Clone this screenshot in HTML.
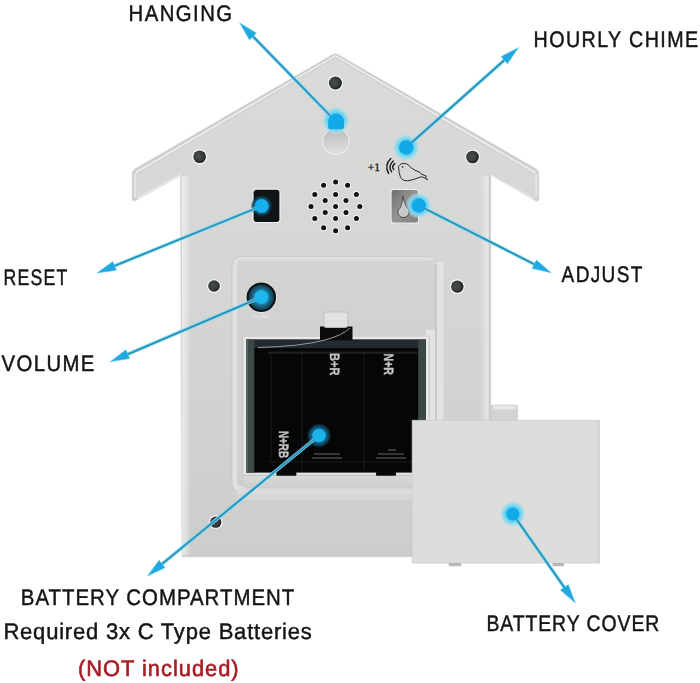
<!DOCTYPE html>
<html><head><meta charset="utf-8">
<style>
html,body{margin:0;padding:0;background:#fff;width:700px;height:683px;overflow:hidden}
svg{display:block}
text{text-rendering:geometricPrecision;font-family:"Liberation Sans",sans-serif;fill:#141414;stroke:#141414;stroke-width:0.45}
</style></head>
<body>
<svg width="700" height="683" viewBox="0 0 700 683">
<defs>
  <filter id="soft" x="-20%" y="-20%" width="140%" height="140%"><feGaussianBlur stdDeviation="0.45"/></filter>
  <linearGradient id="keyg" x1="0" y1="0" x2="0" y2="1">
    <stop offset="0" stop-color="#b9b9b9"/><stop offset="0.6" stop-color="#d2d2d2"/><stop offset="1" stop-color="#dedede"/>
  </linearGradient>
  <linearGradient id="adjg" x1="0" y1="0" x2="1" y2="1">
    <stop offset="0" stop-color="#6e6e6e"/><stop offset="0.5" stop-color="#959595"/><stop offset="1" stop-color="#7e7e7e"/>
  </linearGradient>
  <linearGradient id="lrim" x1="0" y1="0" x2="1" y2="0">
    <stop offset="0" stop-color="#ffffff" stop-opacity="0.6"/><stop offset="0.5" stop-color="#ffffff" stop-opacity="0.35"/><stop offset="1" stop-color="#ffffff" stop-opacity="0"/>
  </linearGradient>
  <linearGradient id="rrim" x1="0" y1="0" x2="1" y2="0">
    <stop offset="0" stop-color="#ffffff" stop-opacity="0"/><stop offset="0.8" stop-color="#ffffff" stop-opacity="0.4"/><stop offset="1" stop-color="#c8c8c8" stop-opacity="0.9"/>
  </linearGradient>
  <linearGradient id="lborder" x1="0" y1="0" x2="1" y2="0">
    <stop offset="0" stop-color="#5d6966"/><stop offset="0.4" stop-color="#3f4846"/><stop offset="1" stop-color="#1a1e1d"/>
  </linearGradient>
  <linearGradient id="rborder" x1="0" y1="0" x2="1" y2="0">
    <stop offset="0" stop-color="#1a1e1d"/><stop offset="0.5" stop-color="#3f4846"/><stop offset="1" stop-color="#5a6562"/>
  </linearGradient>
  <linearGradient id="topsh" x1="0" y1="0" x2="0" y2="1">
    <stop offset="0" stop-color="#e2e2e2"/><stop offset="1" stop-color="#cdcdcd"/>
  </linearGradient>
  <radialGradient id="knobg" cx="50%" cy="50%" r="50%">
    <stop offset="0.5" stop-color="#1f86b0"/><stop offset="0.8" stop-color="#175a75"/><stop offset="1" stop-color="#123c4c"/>
  </radialGradient>
  <radialGradient id="holeg" cx="42%" cy="45%" r="58%">
    <stop offset="0" stop-color="#4a5050"/><stop offset="0.7" stop-color="#343939"/><stop offset="1" stop-color="#151818"/>
  </radialGradient>
  <linearGradient id="bodyg" gradientUnits="userSpaceOnUse" x1="0" y1="54" x2="0" y2="556">
    <stop offset="0" stop-color="#dadad8"/><stop offset="0.5" stop-color="#d5d5d3"/><stop offset="1" stop-color="#cdcdcb"/>
  </linearGradient>
  <linearGradient id="floorg" x1="0" y1="0" x2="0" y2="1">
    <stop offset="0" stop-color="#d3d3d1"/><stop offset="1" stop-color="#cfcfcd"/>
  </linearGradient>
  <linearGradient id="underg" x1="0" y1="0" x2="0" y2="1">
    <stop offset="0" stop-color="#d9d9d8"/><stop offset="1" stop-color="#cdcdcc"/>
  </linearGradient>
  <radialGradient id="haloL" cx="50%" cy="50%" r="50%">
    <stop offset="0.5" stop-color="#52cdf2" stop-opacity="1"/><stop offset="0.75" stop-color="#8cdaee" stop-opacity="0.85"/><stop offset="1" stop-color="#bfe3ea" stop-opacity="0"/>
  </radialGradient>
  <radialGradient id="haloD" cx="50%" cy="50%" r="50%">
    <stop offset="0.45" stop-color="#1a7aa6" stop-opacity="1"/><stop offset="0.8" stop-color="#0f4560" stop-opacity="0.9"/><stop offset="1" stop-color="#0b2a3a" stop-opacity="0"/>
  </radialGradient>
</defs>

<!-- house body -->
<path d="M333,55.3 Q335.4,53.8 337.8,55.3 L536,169.8 Q538,171 538,173 L538,198.5 Q538,201.5 535.5,200 L490,173.5 L490,556 L182.4,556 L181.2,174.5 L135.5,199.8 Q133,201 133,198.5 L133,173 Q133,171 135,169.8 Z" fill="#ececec" stroke="#ececec" stroke-width="3" stroke-linejoin="round"/>
<path d="M333,55.3 Q335.4,53.8 337.8,55.3 L536,169.8 Q538,171 538,173 L538,198.5 Q538,201.5 535.5,200 L490,173.5 L490,556 L182.4,556 L181.2,174.5 L135.5,199.8 Q133,201 133,198.5 L133,173 Q133,171 135,169.8 Z" fill="url(#bodyg)" stroke="#bdbdbd" stroke-width="1" stroke-linejoin="round"/>
<!-- roof bevel -->
<path d="M136,172.8 L335.4,55.7 L535,172.8" fill="none" stroke="#ebebeb" stroke-width="1.8" stroke-linejoin="round"/>
<path d="M137.5,173.5 L335.4,57.4 L533.5,173.5" fill="none" stroke="#c9c9c9" stroke-width="0.9" stroke-linejoin="round"/>
<path d="M134.8,174 L134.8,197.5 M536.3,174 L536.3,197.5" fill="none" stroke="#e6e6e6" stroke-width="2"/>
<path d="M137,198.5 L181,174.5 M490,174.5 L534,199" fill="none" stroke="#e8e8e8" stroke-width="1.6"/>
<!-- body rims -->
<rect x="181.5" y="176" width="9" height="379.5" fill="url(#lrim)"/>
<rect x="480" y="176" width="9.5" height="379.5" fill="url(#rrim)"/>

<!-- inner recessed panel -->
<rect x="436" y="262" width="7.5" height="228" fill="#e2e2e2"/>
<rect x="231.5" y="256" width="205" height="237" rx="10" fill="#c6c6c6"/>
<rect x="232.3" y="256.8" width="203.4" height="235.4" rx="9.2" fill="#e0e0e0"/>
<rect x="238" y="258.4" width="196" height="5" fill="url(#topsh)"/>
<rect x="237.2" y="262.8" width="198" height="224" rx="5" fill="url(#floorg)"/>
<rect x="435" y="264" width="1.4" height="224" fill="#c4c4c4"/>
<rect x="237" y="488.5" width="206" height="5.5" fill="#dcdcdb"/>
<rect x="237" y="494" width="206" height="6" fill="#d6d6d5"/>
<rect x="244" y="475" width="183" height="13.5" fill="url(#underg)"/>
<rect x="244" y="472.6" width="183" height="2.2" fill="#efefef"/>
<rect x="426" y="330" width="9" height="150" fill="#e4e4e4"/>
<rect x="428.8" y="338" width="0.9" height="136" fill="#cbcbcb"/>

<!-- holes -->
<g fill="#f4f4f4">
  <circle cx="335.4" cy="83.0" r="7.8"/>
  <circle cx="199.6" cy="156.8" r="7.6"/>
  <circle cx="472.5" cy="157.0" r="7.6"/>
  <circle cx="457.3" cy="286.6" r="7.5"/>
  <circle cx="214.0" cy="286.0" r="7.1"/>
  <circle cx="215.7" cy="522.2" r="6.9"/>
</g>
<g fill="url(#holeg)">
  <circle cx="335.4" cy="83.0" r="6.5"/>
  <circle cx="199.6" cy="156.8" r="6.3"/>
  <circle cx="472.5" cy="157.0" r="6.3"/>
  <circle cx="457.3" cy="286.6" r="6.2"/>
  <circle cx="214.0" cy="286.0" r="5.8"/>
  <circle cx="215.7" cy="522.2" r="5.6"/>
</g>

<!-- keyhole -->
<circle cx="335.8" cy="141.4" r="13.6" fill="#ededed"/>
<circle cx="335.8" cy="141.4" r="12.6" fill="url(#keyg)"/>
<rect x="328.6" y="114" width="14.4" height="20" rx="6" fill="#c9c9c9"/>

<!-- speaker -->
<g fill="#f3f3f3">
  <circle cx="335.6" cy="206.6" r="3.5"/>
  <circle cx="335.6" cy="194.6" r="3.5"/>
  <circle cx="346.0" cy="200.6" r="3.5"/>
  <circle cx="346.0" cy="212.6" r="3.5"/>
  <circle cx="335.6" cy="218.6" r="3.5"/>
  <circle cx="325.2" cy="212.6" r="3.5"/>
  <circle cx="325.2" cy="200.6" r="3.5"/>
  <circle cx="335.6" cy="182.0" r="3.5"/>
  <circle cx="347.6" cy="185.2" r="3.5"/>
  <circle cx="356.4" cy="194.6" r="3.5"/>
  <circle cx="359.8" cy="206.6" r="3.5"/>
  <circle cx="356.4" cy="218.6" r="3.5"/>
  <circle cx="347.6" cy="227.8" r="3.5"/>
  <circle cx="335.6" cy="230.8" r="3.5"/>
  <circle cx="323.6" cy="227.8" r="3.5"/>
  <circle cx="314.8" cy="218.6" r="3.5"/>
  <circle cx="311.0" cy="206.6" r="3.5"/>
  <circle cx="314.8" cy="194.6" r="3.5"/>
  <circle cx="323.6" cy="185.2" r="3.5"/>
</g>
<g fill="#121212">
  <circle cx="335.6" cy="206.6" r="2.5"/>
  <circle cx="335.6" cy="194.6" r="2.5"/>
  <circle cx="346.0" cy="200.6" r="2.5"/>
  <circle cx="346.0" cy="212.6" r="2.5"/>
  <circle cx="335.6" cy="218.6" r="2.5"/>
  <circle cx="325.2" cy="212.6" r="2.5"/>
  <circle cx="325.2" cy="200.6" r="2.5"/>
  <circle cx="335.6" cy="182.0" r="2.5"/>
  <circle cx="347.6" cy="185.2" r="2.5"/>
  <circle cx="356.4" cy="194.6" r="2.5"/>
  <circle cx="359.8" cy="206.6" r="2.5"/>
  <circle cx="356.4" cy="218.6" r="2.5"/>
  <circle cx="347.6" cy="227.8" r="2.5"/>
  <circle cx="335.6" cy="230.8" r="2.5"/>
  <circle cx="323.6" cy="227.8" r="2.5"/>
  <circle cx="314.8" cy="218.6" r="2.5"/>
  <circle cx="311.0" cy="206.6" r="2.5"/>
  <circle cx="314.8" cy="194.6" r="2.5"/>
  <circle cx="323.6" cy="185.2" r="2.5"/>
</g>

<!-- reset button -->
<rect x="252.5" y="188.6" width="28" height="34.4" rx="3.4" fill="#f4f4f4"/>
<rect x="253.6" y="189.7" width="25.8" height="32.2" rx="2.6" fill="#111416"/>
<text x="258.5" y="228.5" font-size="4" style="fill:#e6e6e6;stroke:none">RESET</text>

<!-- adjust -->
<rect x="390.6" y="189" width="28.4" height="34.6" rx="2.6" fill="#eeeeee"/>
<rect x="391.6" y="190" width="26.4" height="32.6" rx="2" fill="url(#adjg)"/>
<path d="M402.8,196.5 C402.4,200 401.9,203.5 400.6,207.2 A5.6,5.6 0 1 0 407.2,207.8 C405.2,204.5 403.6,200.5 402.8,196.5 Z" fill="#c9c9c9" stroke="#333" stroke-width="0.8"/>

<text x="396" y="229.5" font-size="4" style="fill:#e4e4e4;stroke:none">ADJUST</text>
<!-- +1 chime bird -->
<text x="367.8" y="171.3" font-size="11.5" style="font-family:'Liberation Serif',serif;fill:#1a1a1a;stroke:#1a1a1a;stroke-width:0.3">+1</text>
<path d="M390.8,158.4 Q384,165 388.6,173.4 M393.2,161 Q387.4,166.5 391.6,171.7 M394.8,163.6 Q391,166.8 393.8,169.6" fill="none" stroke="#1c1c1c" stroke-width="1.45" stroke-linecap="round"/>
<path d="M398.3,166.6 L400,164.6 Q402.6,162.3 406.5,163.9 Q409,165.2 411.1,167.7 Q414,170.3 420.1,172.5 L421,173.9 L426.6,176.3 L425.4,177.4 L427.8,179.8 L424.8,178 Q422.2,176.6 420.8,176.9 Q414,179.6 407.7,180.9 Q402.8,181.2 400.6,177.6 Q398.7,173 398.6,167.2 Z" fill="none" stroke="#2a2a2a" stroke-width="1" stroke-linejoin="round"/>
<circle cx="402.6" cy="166.8" r="0.9" fill="#2a2a2a"/>

<!-- black battery compartment -->
<rect x="242.5" y="335.8" width="187" height="140" fill="#c4c4c4"/>
<rect x="243.3" y="336.6" width="185.4" height="138" fill="#e8e8e8"/>
<rect x="246" y="339.6" width="180" height="133" fill="#060606"/>
<rect x="246" y="339.6" width="180" height="8.5" fill="#222931"/>
<rect x="246" y="339.6" width="8.3" height="133" fill="#3d4947"/>
<rect x="418.2" y="339.6" width="7.8" height="133" fill="#3b4745"/>
<rect x="246" y="339.6" width="2" height="133" fill="#566260"/>
<rect x="320" y="326.5" width="32.5" height="14" fill="#0c0c0c"/>
<rect x="323.8" y="312" width="24" height="15.5" rx="2.5" fill="#e2e2e2" stroke="#bcbcbc" stroke-width="0.9"/>
<path d="M258,347.5 Q300,346.5 325,340 Q342,335.5 350,328" fill="none" stroke="#9a9a9a" stroke-width="1"/>
<!-- holder details -->
<g stroke="#1a1a1a" stroke-width="1" fill="none">
  <path d="M268,352 L417,352"/>
  <path d="M271,355 L271,462"/>
  <path d="M302,352 L302,470 M364,352 L364,470"/>
  <path d="M268,462 L417,462"/>
</g>
<g filter="url(#soft)">
  <text transform="translate(329.5,353) rotate(90)" textLength="22.5" lengthAdjust="spacingAndGlyphs" style="fill:#c4c4c4;stroke:#c4c4c4;stroke-width:0.4;font-weight:bold;font-size:13.5px">B+R</text>
  <text transform="translate(383.5,353.5) rotate(90)" textLength="21.5" lengthAdjust="spacingAndGlyphs" style="fill:#c4c4c4;stroke:#c4c4c4;stroke-width:0.4;font-weight:bold;font-size:13.5px">N+R</text>
  <text transform="translate(279,431) rotate(90)" textLength="27" lengthAdjust="spacingAndGlyphs" style="fill:#c4c4c4;stroke:#c4c4c4;stroke-width:0.4;font-weight:bold;font-size:13.5px">N+RB</text>
</g>
<path d="M268,353 L417,353" stroke="#3a3a3a" stroke-width="0.8"/>
<g stroke="#9a9a9a" stroke-width="0.8" fill="none" opacity="0.8">
  <path d="M312,458 l30,0 M314,454 l26,0 M376,458 l30,0 M378,454 l26,0 M388,450 l8,0"/>
</g>
<rect x="276.4" y="472" width="20" height="3.8" rx="1" fill="#080808"/>
<rect x="376" y="472" width="20" height="3.8" rx="1" fill="#080808"/>

<!-- battery cover -->
<rect x="491" y="405" width="26.6" height="16" rx="1.5" fill="#d3d3d3" stroke="#c4c4c4" stroke-width="0.6"/>
<rect x="493" y="405.5" width="22.6" height="4" fill="#e6e6e6"/>
<rect x="412.2" y="420.3" width="187.2" height="142.7" fill="#dddddb" stroke="#cdcdcb" stroke-width="0.8"/>
<rect x="596.5" y="421" width="2.6" height="141.6" fill="#d5d5d3"/>
<rect x="552.5" y="563" width="11.5" height="3.2" fill="#b8b8b8"/>
<rect x="448.7" y="563" width="12.5" height="3.2" fill="#b8b8b8"/>

<!-- volume knob -->
<circle cx="261.3" cy="297.3" r="15.6" fill="#ececec"/>
<circle cx="261.3" cy="297.3" r="14.8" fill="#0f1518"/>
<circle cx="261.3" cy="297.3" r="12.6" fill="url(#knobg)"/>
<text x="252" y="318" font-size="4" style="fill:#ececec;stroke:none">VOLUME</text>

<!-- halos -->
<ellipse cx="335.8" cy="120.5" rx="14.5" ry="14.5" fill="url(#haloL)"/>
<circle cx="406.2" cy="147.5" r="14" fill="url(#haloL)"/>
<circle cx="261.6" cy="206" r="11" fill="url(#haloD)"/>
<circle cx="418.8" cy="205.5" r="13.5" fill="url(#haloL)"/>
<circle cx="319" cy="435.5" r="12.5" fill="url(#haloD)"/>
<circle cx="512.8" cy="514" r="13.5" fill="url(#haloL)"/>
<!-- arrows -->
<g stroke="#7ad8f2" stroke-width="3.5" fill="none">
  <line x1="335.4" y1="121.0" x2="249.5" y2="32.9"/>
  <line x1="406.2" y1="147.5" x2="508.0" y2="56.9"/>
  <line x1="261.6" y1="206.0" x2="110.0" y2="267.7"/>
  <line x1="261.3" y1="297.1" x2="123.2" y2="356.2"/>
  <line x1="418.8" y1="205.5" x2="538.7" y2="266.5"/>
  <line x1="319.0" y1="435.5" x2="158.2" y2="567.1"/>
  <line x1="512.8" y1="514.0" x2="567.2" y2="591.4"/>
</g>
<g stroke="#2a8fb5" stroke-width="1.7" fill="none">
  <line x1="335.4" y1="121.0" x2="249.5" y2="32.9"/>
  <line x1="406.2" y1="147.5" x2="508.0" y2="56.9"/>
  <line x1="261.6" y1="206.0" x2="110.0" y2="267.7"/>
  <line x1="261.3" y1="297.1" x2="123.2" y2="356.2"/>
  <line x1="418.8" y1="205.5" x2="538.7" y2="266.5"/>
  <line x1="319.0" y1="435.5" x2="158.2" y2="567.1"/>
  <line x1="512.8" y1="514.0" x2="567.2" y2="591.4"/>
</g>
<g fill="#1fa9e0" stroke="#5cc9ef" stroke-width="0.6" stroke-linejoin="round">
  <polygon points="239.7,22.9 249.5,39.9 256.4,33.1"/>
  <polygon points="518.5,47.6 501.1,56.6 507.5,63.8"/>
  <polygon points="97.0,273.0 116.4,270.3 112.8,261.4"/>
  <polygon points="110.3,361.7 129.7,358.6 125.9,349.8"/>
  <polygon points="551.2,272.8 536.4,259.9 532.1,268.5"/>
  <polygon points="147.4,576.0 165.1,567.7 159.1,560.2"/>
  <polygon points="575.3,602.9 568.3,584.6 560.4,590.1"/>
</g>
<!-- dots -->
<path d="M328.2,121.5 A7.9,7.9 0 0 1 344,121.5 L344,127 Q344,129.2 341.8,129.2 L330.4,129.2 Q328.2,129.2 328.2,127 Z" fill="#12a9e8"/>
<circle cx="406.2" cy="147.5" r="7.2" fill="#12a9e8"/>
<circle cx="261.6" cy="206" r="7" fill="#17b0ea"/>
<circle cx="418.8" cy="205.5" r="7.2" fill="#12a9e8"/>
<circle cx="261.3" cy="297.1" r="7" fill="#1fb6ee"/>
<circle cx="319" cy="435.5" r="6.8" fill="#1cb3ec"/>
<circle cx="512.8" cy="514" r="6.5" fill="#12a9e8"/>

<!-- labels -->
<g style="will-change:transform">
<text transform="translate(0,20.90) scale(1,1.000)" x="128.60" y="0" font-size="22.50" textLength="104.90" lengthAdjust="spacingAndGlyphs" style="letter-spacing:1.6px;">HANGING</text>
<text transform="translate(0,46.70) scale(1,1.000)" x="533.60" y="0" font-size="22.50" textLength="166.00" lengthAdjust="spacingAndGlyphs" style="letter-spacing:1.6px;">HOURLY CHIME</text>
<text transform="translate(0,284.70) scale(1,1.000)" x="3.50" y="0" font-size="22.50" textLength="65.10" lengthAdjust="spacingAndGlyphs" style="letter-spacing:1.6px;">RESET</text>
<text transform="translate(0,370.50) scale(1,1.000)" x="1.50" y="0" font-size="22.50" textLength="94.30" lengthAdjust="spacingAndGlyphs" style="letter-spacing:1.6px;">VOLUME</text>
<text transform="translate(0,281.50) scale(1,1.000)" x="561.60" y="0" font-size="22.50" textLength="82.10" lengthAdjust="spacingAndGlyphs" style="letter-spacing:1.6px;">ADJUST</text>
<text transform="translate(0,604.80) scale(1,1.000)" x="20.80" y="0" font-size="22.50" textLength="274.40" lengthAdjust="spacingAndGlyphs" style="letter-spacing:1.1px;">BATTERY COMPARTMENT</text>
<text transform="translate(0,639.30) scale(1,1.000)" x="3.40" y="0" font-size="22.50" textLength="309.20" lengthAdjust="spacingAndGlyphs" style="letter-spacing:0.8px;stroke-width:0.45;">Required 3x C Type Batteries</text>
<text transform="translate(0,675.90) scale(1,1.000)" x="78.00" y="0" font-size="22.50" textLength="161.60" lengthAdjust="spacingAndGlyphs" style="letter-spacing:1.0px;fill:#a81c24;stroke:#a81c24;stroke-width:0.6;">(NOT included)</text>
<text transform="translate(0,630.50) scale(1,1.000)" x="486.40" y="0" font-size="22.50" textLength="173.80" lengthAdjust="spacingAndGlyphs" style="letter-spacing:1.1px;">BATTERY COVER</text>
</g>
</svg>
</body></html>
